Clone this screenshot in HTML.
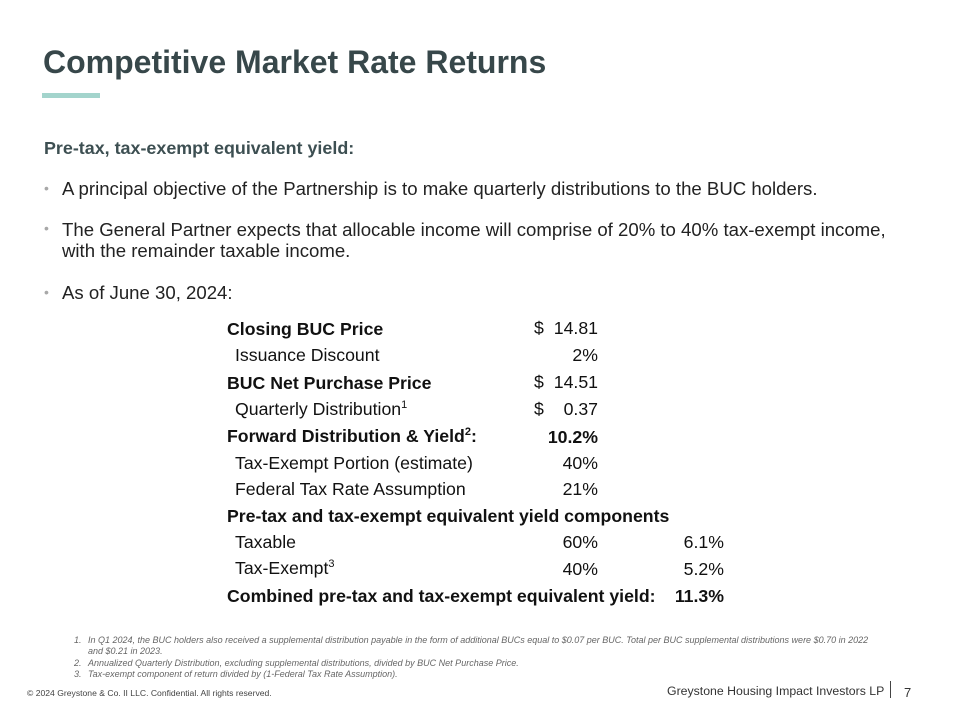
<!DOCTYPE html>
<html><head><meta charset="utf-8"><style>
body{margin:0;width:960px;height:720px;background:#fff;position:relative;overflow:hidden;font-family:"Liberation Sans",Arial,sans-serif;}
.a{position:absolute;white-space:nowrap;}
.t{font-size:32px;font-weight:bold;color:#37474a;left:43px;top:44px;}
.bar{position:absolute;left:42px;top:93px;width:58px;height:5px;background:#a3d4cc;}
.h{font-size:17.9px;font-weight:bold;color:#3d4f52;left:44px;top:138px;}
.b{font-size:18.6px;color:#222;left:62px;line-height:21px;}
.dot{position:absolute;left:44px;font-size:14px;color:#a8a8a8;}
.r{font-size:17.7px;color:#111;}
.bd{font-weight:bold;}
.v{text-align:right;width:80px;}
.fn{font-size:9px;font-style:italic;color:#666;}
</style></head><body>
<div class="a t">Competitive Market Rate Returns</div>
<div class="bar"></div>
<div class="a h">Pre-tax, tax-exempt equivalent yield:</div>
<div class="dot" style="top:180px">•</div>
<div class="a b" style="top:178px">A principal objective of the Partnership is to make quarterly distributions to the BUC holders.</div>
<div class="dot" style="top:220px">•</div>
<div class="a b" style="top:219px">The General Partner expects that allocable income will comprise of 20% to 40% tax-exempt income,<br>with the remainder taxable income.</div>
<div class="dot" style="top:284px">•</div>
<div class="a b" style="top:282px">As of June 30, 2024:</div>

<div class="a r bd" style="left:227px;top:319px">Closing BUC Price</div>
<div class="a r" style="left:534px;top:318px">$</div><div class="a r v" style="left:518px;top:318px">14.81</div>
<div class="a r" style="left:235px;top:345px">Issuance Discount</div>
<div class="a r v" style="left:518px;top:345px">2%</div>
<div class="a r bd" style="left:227px;top:373px">BUC Net Purchase Price</div>
<div class="a r" style="left:534px;top:372px">$</div><div class="a r v" style="left:518px;top:372px">14.51</div>
<div class="a r" style="left:235px;top:399px">Quarterly Distribution<sup style="font-size:11px">1</sup></div>
<div class="a r" style="left:534px;top:399px">$</div><div class="a r v" style="left:518px;top:399px">0.37</div>
<div class="a r bd" style="left:227px;top:426px">Forward Distribution &amp; Yield<sup style="font-size:11px">2</sup>:</div>
<div class="a r bd v" style="left:518px;top:427px">10.2%</div>
<div class="a r" style="left:235px;top:453px">Tax-Exempt Portion (estimate)</div>
<div class="a r v" style="left:518px;top:453px">40%</div>
<div class="a r" style="left:235px;top:479px">Federal Tax Rate Assumption</div>
<div class="a r v" style="left:518px;top:479px">21%</div>
<div class="a r bd" style="left:227px;top:506px">Pre-tax and tax-exempt equivalent yield components</div>
<div class="a r" style="left:235px;top:532px">Taxable</div>
<div class="a r v" style="left:518px;top:532px">60%</div><div class="a r v" style="left:644px;top:532px">6.1%</div>
<div class="a r" style="left:235px;top:558px">Tax-Exempt<sup style="font-size:11px">3</sup></div>
<div class="a r v" style="left:518px;top:559px">40%</div><div class="a r v" style="left:644px;top:559px">5.2%</div>
<div class="a r bd" style="left:227px;top:586px">Combined pre-tax and tax-exempt equivalent yield:</div>
<div class="a r bd v" style="left:644px;top:586px">11.3%</div>

<div class="a fn" style="left:74px;top:635px">1.</div>
<div class="a fn" style="left:88px;top:635px;line-height:11px">In Q1 2024, the BUC holders also received a supplemental distribution payable in the form of additional BUCs equal to $0.07 per BUC. Total per BUC supplemental distributions were $0.70 in 2022<br>and $0.21 in 2023.</div>
<div class="a fn" style="left:74px;top:658px">2.</div>
<div class="a fn" style="left:88px;top:658px">Annualized Quarterly Distribution, excluding supplemental distributions, divided by BUC Net Purchase Price.</div>
<div class="a fn" style="left:74px;top:669px">3.</div>
<div class="a fn" style="left:88px;top:669px">Tax-exempt component of return divided by (1-Federal Tax Rate Assumption).</div>
<div class="a" style="left:27px;top:688px;font-size:8.6px;color:#444">© 2024 Greystone &amp; Co. II LLC. Confidential. All rights reserved.</div>
<div class="a" style="left:667px;top:684px;font-size:12.3px;color:#333">Greystone Housing Impact Investors LP</div>
<div style="position:absolute;left:890px;top:681px;width:1px;height:17px;background:#444"></div>
<div class="a" style="left:904px;top:685px;font-size:13px;color:#333">7</div>
</body></html>
